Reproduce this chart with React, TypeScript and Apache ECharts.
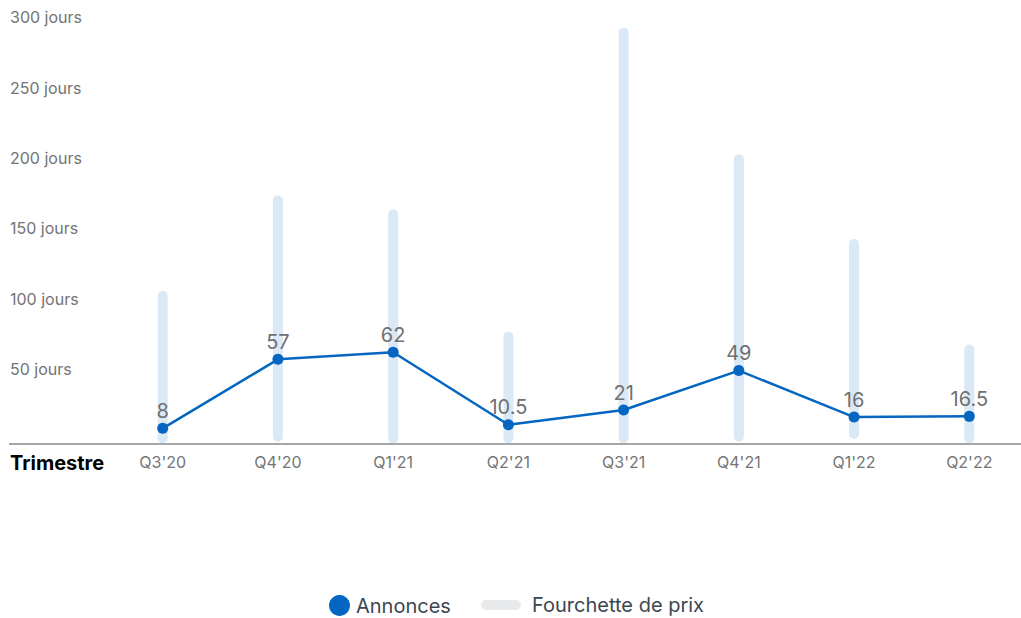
import React, { useEffect, useRef } from "react";
import * as echarts from "echarts";

const categories = ["Q3'20", "Q4'20", "Q1'21", "Q2'21", "Q3'21", "Q4'21", "Q1'22", "Q2'22"];
const annonces = [8, 57, 62, 10.5, 21, 49, 16, 16.5];
const rangeLow = [1, 2, 1, 1, 1, 2, 4, 1];
const rangeHigh = [102, 170, 160, 73, 289, 199, 139, 64];
const yTicks = [0, 50, 100, 150, 200, 250, 300];

const FONT = "Inter, 'Noto Sans', sans-serif";

export default function App() {
  const ref = useRef<HTMLDivElement>(null);
  useEffect(() => {
    document.body.style.margin = "0";
    if (!ref.current) return;
    const chart = echarts.init(ref.current, undefined, { renderer: "svg" });
    const rangeData = categories.map((_, i) => [i, rangeLow[i], rangeHigh[i]]);
    chart.setOption({
      animation: false,
      textStyle: { fontFamily: FONT },
      grid: {
        left: 105.1,
        right: -5.9,
        top: 17.2,
        bottom: 178.4,
        containLabel: false,
        outerBoundsMode: "none",
      },
      xAxis: {
        type: "category",
        data: categories,
        boundaryGap: true,
        axisLine: { show: false },
        axisTick: { show: false },
        axisLabel: { color: "#757575", fontSize: 16, margin: 14, fontFamily: FONT },
        splitLine: { show: false },
      },
      yAxis: {
        type: "value",
        min: yTicks[0],
        max: yTicks[yTicks.length - 1],
        interval: 50,
        axisLine: { show: false },
        axisTick: { show: false },
        splitLine: { show: false },
        axisLabel: {
          formatter: (v: number) => (v === 0 ? "" : `${v} jours`),
          color: "#737373",
          fontSize: 16,
          align: "left",
          margin: 95.1,
          fontFamily: FONT,
        },
      },
      legend: [
        {
          data: [{ name: "Annonces", icon: "circle" }],
          left: 329,
          top: 595,
          padding: 0,
          itemWidth: 21,
          itemHeight: 21,
          textStyle: { color: "#3c4650", fontSize: 20, fontFamily: FONT, padding: [0, 0, 0, 1] },
        },
        {
          data: [
            {
              name: "Fourchette de prix",
              icon: "path://M5,0 L35,0 A5,5 0 0 1 35,10 L5,10 A5,5 0 0 1 5,0 Z",
              itemStyle: { color: "#e8e9eb" },
            },
          ],
          left: 481,
          top: 595,
          padding: 0,
          itemWidth: 40,
          itemHeight: 10,
          textStyle: { color: "#3c4650", fontSize: 20, fontFamily: FONT, padding: [0, 0, 0, 6] },
        },
      ],
      graphic: [
        {
          type: "line",
          shape: { x1: 9, y1: 444, x2: 1021, y2: 444 },
          style: { stroke: "#a6a6a6", lineWidth: 2 },
          z: 1,
        },
        {
          type: "text",
          left: 10,
          top: 453,
          style: {
            text: "Trimestre",
            fill: "#000000",
            font: `bold 20px ${FONT}`,
          },
        },
      ],
      series: [
        {
          name: "Fourchette de prix",
          type: "custom",
          data: rangeData,
          encode: { x: 0, y: [1, 2] },
          z: 1,
          renderItem: (params: any, api: any) => {
            const lo = api.coord([api.value(0), api.value(1)]);
            const hi = api.coord([api.value(0), api.value(2)]);
            const r = 5;
            return {
              type: "rect",
              shape: { x: lo[0] - r, y: hi[1] - r, width: 2 * r, height: lo[1] - hi[1] + 2 * r, r },
              style: { fill: "#dbe8f5" },
            };
          },
          itemStyle: { color: "#e8e9eb" },
        },
        {
          name: "Annonces",
          type: "line",
          data: annonces,
          z: 3,
          symbol: "circle",
          symbolSize: 11,
          lineStyle: { color: "#0566c2", width: 2.5 },
          itemStyle: { color: "#0566c2" },
          label: {
            show: true,
            position: "top",
            distance: 2,
            color: "#707070",
            fontSize: 20,
            fontFamily: FONT,
          },
        },
      ],
    });
    return () => chart.dispose();
  }, []);
  return <div ref={ref} style={{ width: 1021, height: 618 }} />;
}
